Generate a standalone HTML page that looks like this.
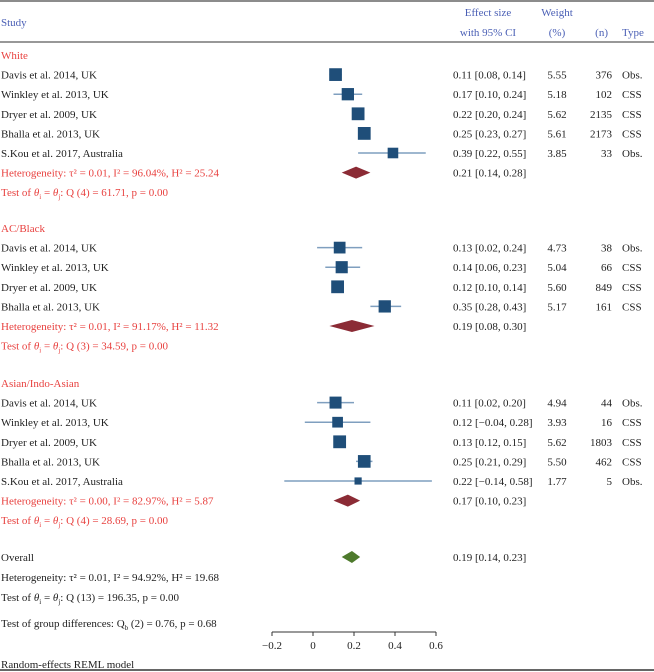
<!DOCTYPE html>
<html><head><meta charset="utf-8"><style>
html,body{margin:0;padding:0;background:#fff}
svg{display:block;font-family:"Liberation Serif",serif;font-size:11px}
.h{fill:#4a5fb5}.r{fill:#e8413f}.k{fill:#222}
</style></head><body>
<svg id="chart" width="654" height="672" viewBox="0 0 654 672"></svg>
<script>
const studies=["Davis et al. 2014, UK","Winkley et al. 2013, UK","Dryer et al. 2009, UK","Bhalla et al. 2013, UK","S.Kou et al. 2017, Australia","Davis et al. 2014, UK","Winkley et al. 2013, UK","Dryer et al. 2009, UK","Bhalla et al. 2013, UK","Davis et al. 2014, UK","Winkley et al. 2013, UK","Dryer et al. 2009, UK","Bhalla et al. 2013, UK","S.Kou et al. 2017, Australia"];
const groupOf=[0,0,0,0,0,1,1,1,1,2,2,2,2,2];
const est=[0.11,0.17,0.22,0.25,0.39,0.13,0.14,0.12,0.35,0.11,0.12,0.13,0.25,0.22];
const lo=[0.08,0.10,0.20,0.23,0.22,0.02,0.06,0.10,0.28,0.02,-0.04,0.12,0.21,-0.14];
const hi=[0.14,0.24,0.24,0.27,0.55,0.24,0.23,0.14,0.43,0.20,0.28,0.15,0.29,0.58];
const weight=[5.55,5.18,5.62,5.61,3.85,4.73,5.04,5.60,5.17,4.94,3.93,5.62,5.50,1.77];
const nvals=[376,102,2135,2173,33,38,66,849,161,44,16,1803,462,5];
const types=["Obs.","CSS","CSS","CSS","Obs.","Obs.","CSS","CSS","CSS","Obs.","CSS","CSS","CSS","Obs."];
const groups=["White","AC/Black","Asian/Indo-Asian"];
const gEst=[0.21,0.19,0.17];const gLo=[0.14,0.08,0.10];const gHi=[0.28,0.30,0.23];
const gHet=["Heterogeneity: τ² = 0.01, I² = 96.04%, H² = 25.24","Heterogeneity: τ² = 0.01, I² = 91.17%, H² = 11.32","Heterogeneity: τ² = 0.00, I² = 82.97%, H² = 5.87"];
const gQ=["Q (4) = 61.71, p = 0.00","Q (3) = 34.59, p = 0.00","Q (4) = 28.69, p = 0.00"];
const oEst=0.19,oLo=0.14,oHi=0.23;
const ticks=[-0.2,0,0.2,0.4,0.6];
const tickLabels=["−0.2","0","0.2","0.4","0.6"];

const svg=document.getElementById('chart');const NS="http://www.w3.org/2000/svg";
function x(v){return 313+v*205;}
function el(t,a,txt,name){const e=document.createElementNS(NS,t);for(const k in a)e.setAttribute(k,a[k]);if(txt!==undefined)e.innerHTML=txt;


svg.appendChild(e);return e;}
function fmt(v){return (v<0?"−":"")+Math.abs(v).toFixed(2);}
function ci(e,l,h){return fmt(e)+" ["+fmt(l)+", "+fmt(h)+"]";}
const CX=453,WX=557,NX=612,TX=622;
el('line',{x1:0,y1:1,x2:654,y2:1,stroke:'#666','stroke-width':1.5},undefined,'top-rule');
el('line',{x1:0,y1:42,x2:654,y2:42,stroke:'#777','stroke-width':1.5},undefined,'header-rule');
el('line',{x1:0,y1:670,x2:654,y2:670,stroke:'#666','stroke-width':2},undefined,'bottom-rule');
el('text',{x:1,y:26,class:'h'},'Study','study-header');
el('text',{x:488,y:16,class:'h','text-anchor':'middle'},'Effect size','effect-header');
el('text',{x:488,y:36,class:'h','text-anchor':'middle'},'with 95% CI','effect-header-2');
el('text',{x:WX,y:16,class:'h','text-anchor':'middle'},'Weight','weight-header');
el('text',{x:WX,y:36,class:'h','text-anchor':'middle'},'(%)','weight-header-2');
el('text',{x:608,y:36,class:'h','text-anchor':'end'},'(n)','n-header');
el('text',{x:TX,y:36,class:'h'},'Type','type-header');
const gHeadY=[55,228,383];const step=19.6;
function diamond(e,l,h,y,col,name){el('polygon',{points:`${x(l)},${y} ${x(e)},${y-6} ${x(h)},${y} ${x(e)},${y+6}`,fill:col},undefined,name);}
for(let g=0;g<3;g++){
  el('text',{x:1,y:gHeadY[g]+4,class:'r'},groups[g],'group-label');
  let y=gHeadY[g];
  for(let i=0;i<studies.length;i++){ if(groupOf[i]!==g)continue; y+=step;
    el('text',{x:1,y:y+4,class:'k'},studies[i],'study-label');
    el('line',{x1:x(lo[i]),y1:y,x2:x(hi[i]),y2:y,stroke:'#7f9fbf','stroke-width':1.5},undefined,'ci-line');
    const s=Math.sqrt(weight[i])*5.4;
    el('rect',{x:x(est[i])-s/2,y:y-s/2,width:s,height:s,fill:'#1f4e79'},undefined,'study-marker');
    el('text',{x:CX,y:y+4,class:'k'},ci(est[i],lo[i],hi[i]),'effect-ci');
    el('text',{x:WX,y:y+4,class:'k','text-anchor':'middle'},weight[i].toFixed(2),'weight-value');
    el('text',{x:NX,y:y+4,class:'k','text-anchor':'end'},nvals[i],'n-value');
    el('text',{x:TX,y:y+4,class:'k'},types[i],'type-value');
  }
  y+=step;
  el('text',{x:1,y:y+4,class:'r'},gHet[g],'group-heterogeneity');
  diamond(gEst[g],gLo[g],gHi[g],y,'#8b2b35','group-diamond');
  el('text',{x:CX,y:y+4,class:'k'},ci(gEst[g],gLo[g],gHi[g]),'group-effect');
  y+=step;
  el('text',{x:1,y:y+4,class:'r'},'Test of <tspan font-style="italic">θ</tspan><tspan font-size="7" dy="3">i</tspan><tspan dy="-3"> = </tspan><tspan font-style="italic">θ</tspan><tspan font-size="7" dy="3">j</tspan><tspan dy="-3">: '+gQ[g]+'</tspan>','group-test');
}
el('text',{x:1,y:561,class:'k'},'Overall','overall-label');
diamond(oEst,oLo,oHi,557,'#4e7a2c','overall-diamond');
el('text',{x:CX,y:561,class:'k'},ci(oEst,oLo,oHi),'overall-effect');
el('text',{x:1,y:581,class:'k'},'Heterogeneity: τ² = 0.01, I² = 94.92%, H² = 19.68','overall-heterogeneity');
el('text',{x:1,y:601,class:'k'},'Test of <tspan font-style="italic">θ</tspan><tspan font-size="7" dy="3">i</tspan><tspan dy="-3"> = </tspan><tspan font-style="italic">θ</tspan><tspan font-size="7" dy="3">j</tspan><tspan dy="-3">: Q (13) = 196.35, p = 0.00</tspan>','overall-test');
el('text',{x:1,y:627,class:'k'},'Test of group differences: Q<tspan font-size="7" dy="3">b</tspan><tspan dy="-3"> (2) = 0.76, p = 0.68</tspan>','group-differences');
el('line',{x1:x(ticks[0]),y1:632,x2:x(ticks[ticks.length-1]),y2:632,stroke:'#333','stroke-width':1},undefined,'x-axis');
ticks.forEach((t,i)=>{el('line',{x1:x(t),y1:632,x2:x(t),y2:636,stroke:'#333'},undefined,'x-tick');
el('text',{x:x(t),y:649,class:'k','text-anchor':'middle'},tickLabels[i],'x-tick-label');});
el('text',{x:1,y:668,class:'k'},'Random-effects REML model','model-note');
</script>
</body></html>
